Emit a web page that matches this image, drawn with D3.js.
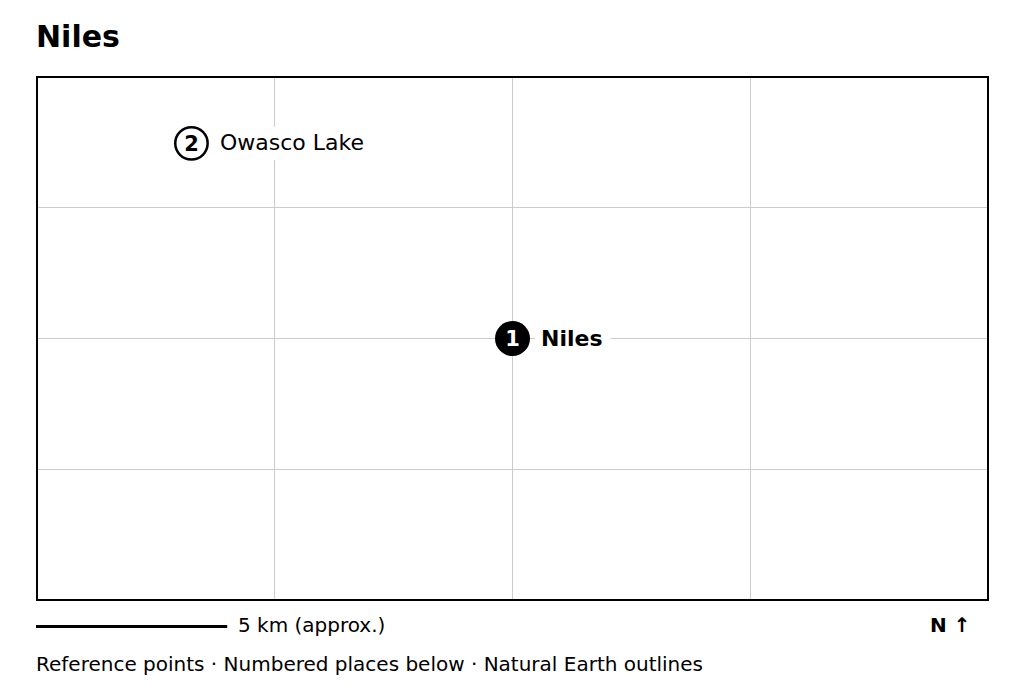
<!DOCTYPE html>
<html>
<head>
<meta charset="utf-8">
<script src="https://cdn.jsdelivr.net/npm/d3@7"></script>
<style>
  html, body { margin: 0; padding: 0; background: #fff; }
  svg { display: block; }
  text { font-family: "DejaVu Sans", sans-serif; fill: #000; }
</style>
</head>
<body>
<div id="chart"></div>
<script>
// map extent in km from the south-west corner
const extentKm = [25, 13.76];
const gridEast = [6.25, 12.5, 18.75];
const gridNorth = [3.44, 6.88, 10.32];

const placeNames = ["Niles", "Owasco Lake"];
const placeEast = [12.5, 4.06];
const placeNorth = [6.88, 12.015];
const placeRank = [1, 2];

const scaleKm = 5;
const titleText = "Niles";
const scaleText = "5 km (approx.)";
const northText = "N ↑";
const footText = "Reference points · Numbered places below · Natural Earth outlines";

const svg = d3.select("#chart").append("svg")
  .attr("width", 1024)
  .attr("height", 692);

const x = d3.scaleLinear().domain([0, extentKm[0]]).range([37, 988]);
const y = d3.scaleLinear().domain([0, extentKm[1]]).range([600, 77]);

svg.append("text")
  .attr("x", 36)
  .attr("y", 47)
  .style("font-size", "30px")
  .style("font-weight", "bold")
  .text(titleText);

// graticule
const grid = svg.append("g").attr("stroke", "#cccccc").attr("stroke-width", 1);
grid.selectAll("line.v").data(gridEast).enter().append("line")
  .attr("class", "v")
  .attr("x1", d => Math.floor(x(d)) + 0.5)
  .attr("x2", d => Math.floor(x(d)) + 0.5)
  .attr("y1", y(0))
  .attr("y2", y(extentKm[1]));
grid.selectAll("line.h").data(gridNorth).enter().append("line")
  .attr("class", "h")
  .attr("y1", d => Math.floor(y(d)) + 0.5)
  .attr("y2", d => Math.floor(y(d)) + 0.5)
  .attr("x1", x(0))
  .attr("x2", x(extentKm[0]));

// places
const places = placeNames.map((name, i) => ({
  name, east: placeEast[i], north: placeNorth[i], rank: placeRank[i]
}));

const place = svg.selectAll("g.place").data(places).enter().append("g")
  .attr("class", "place")
  .attr("transform", d => `translate(${x(d.east)},${y(d.north)})`);

const labels = place.append("text")
  .attr("x", 28.5)
  .attr("y", 7)
  .style("font-size", "22px")
  .style("font-weight", d => d.rank === 1 ? "bold" : "normal")
  .text(d => d.name);

// white box behind each label, knocks out the graticule
labels.each(function () {
  const w = this.getComputedTextLength();
  d3.select(this.parentNode).insert("rect", "text")
    .attr("x", 22.5)
    .attr("y", -16.5)
    .attr("width", w + 14)
    .attr("height", 33)
    .attr("fill", "#fff");
});

place.append("circle")
  .attr("r", d => d.rank === 1 ? 17.5 : 16.2)
  .attr("fill", d => d.rank === 1 ? "#000" : "#fff")
  .attr("stroke", "#000")
  .attr("stroke-width", d => d.rank === 1 ? 0 : 2.5);

place.append("text")
  .attr("text-anchor", "middle")
  .attr("y", 7.5)
  .style("font-size", "21px")
  .style("font-weight", "bold")
  .style("fill", d => d.rank === 1 ? "#fff" : "#000")
  .text(d => d.rank);

// frame
svg.append("rect")
  .attr("x", x(0))
  .attr("y", y(extentKm[1]))
  .attr("width", x(extentKm[0]) - x(0))
  .attr("height", y(0) - y(extentKm[1]))
  .attr("fill", "none")
  .attr("stroke", "#000")
  .attr("stroke-width", 2);

// scale bar
svg.append("line")
  .attr("x1", x(0) - 1)
  .attr("x2", x(scaleKm))
  .attr("y1", 626.5)
  .attr("y2", 626.5)
  .attr("stroke", "#000")
  .attr("stroke-width", 3);

svg.append("text")
  .attr("x", 238)
  .attr("y", 632)
  .style("font-size", "20px")
  .text(scaleText);

svg.append("text")
  .attr("x", 930)
  .attr("y", 632)
  .style("font-size", "20px")
  .style("font-weight", "bold")
  .text(northText);

svg.append("text")
  .attr("x", 36)
  .attr("y", 671)
  .style("font-size", "20px")
  .text(footText);
</script>
</body>
</html>
